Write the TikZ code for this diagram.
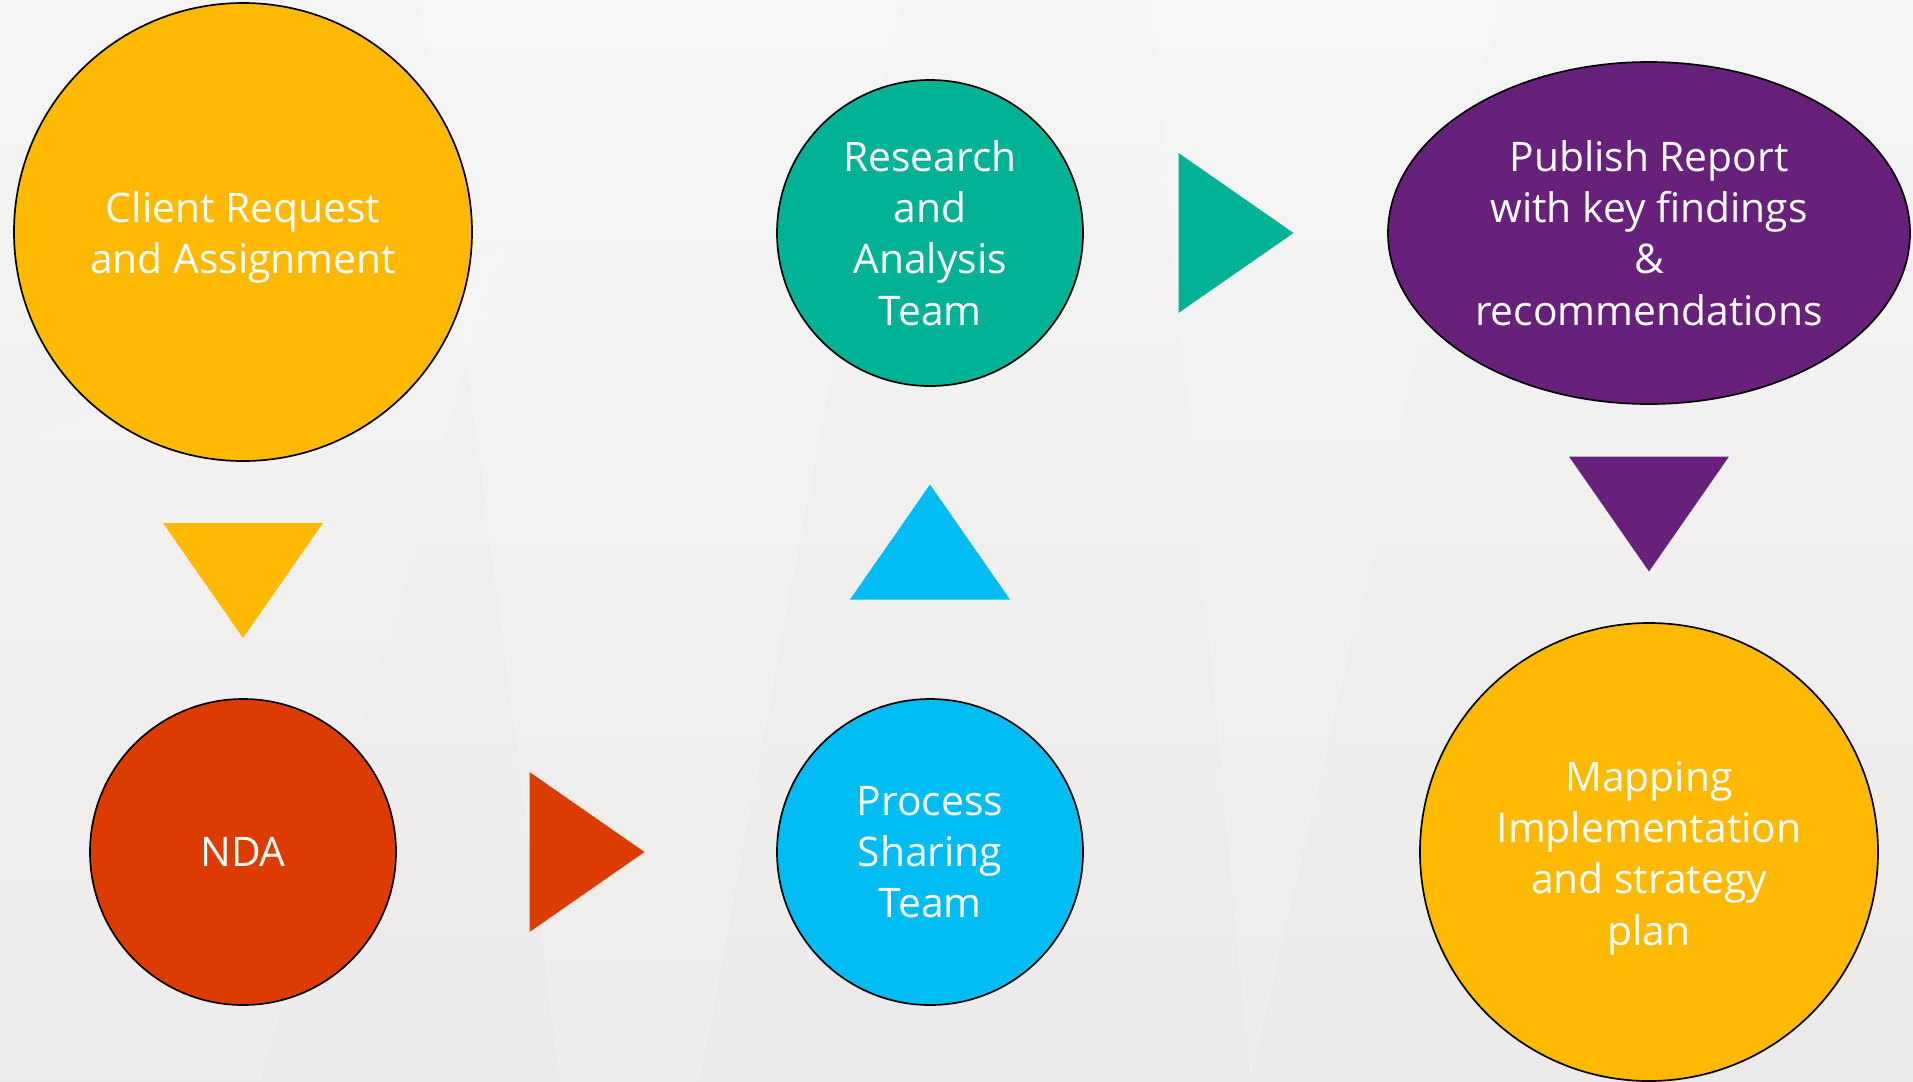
\documentclass[tikz,border=0pt]{standalone}
\usepackage{fontspec}
\setmainfont{Open Sans}
\usetikzlibrary{calc,shapes.geometric}

\definecolor{bgtop}{HTML}{F5F5F5}
\definecolor{bgbottom}{HTML}{ECEAE8}
\definecolor{sunyellow}{HTML}{FFB900}
\definecolor{rustred}{HTML}{DC3C00}
\definecolor{seateal}{HTML}{00B294}
\definecolor{skyblue}{HTML}{00BCF2}
\definecolor{plum}{HTML}{68217A}

% filled triangle pointing along #3 degrees, centred on #2
\newcommand{\flowtip}[3]{%
  \fill[#1, shift={(#2)}, rotate=#3] (-57,-80) -- (-57,80) -- (58,0) -- cycle;}

\begin{document}
\begin{tikzpicture}[x=0.25mm, y=-0.25mm,
  stage/.style={draw=black, line width=1.2pt, text=white, align=center,
                inner sep=0pt, font=\fontsize{29}{36.5}\selectfont},
  bigdisc/.style={stage, circle, minimum size=114.5mm},
  smalldisc/.style={stage, circle, minimum size=76.5mm}]

  % Tlo
  \shade[top color=bgtop, bottom color=bgbottom] (0,0) rectangle (1913,1081);
  \fill[white, opacity=0.15] (420,0) -- (900,0) -- (700,1081) -- (560,1081) -- cycle;
  \fill[white, opacity=0.12] (1150,0) -- (1500,0) -- (1250,1081) -- cycle;
  \fill[white, opacity=0.1] (0,450) -- (500,250) -- (260,1081) -- (0,1081) -- cycle;
  \useasboundingbox (0,0) rectangle (1913,1081);

  % Etapy
  \node[bigdisc, fill=sunyellow] (client) at (243,232)
    {\rule{0pt}{10.5mm}Client Request\\and Assignment};
  \node[smalldisc, fill=rustred] (nda) at (243,852) {NDA};
  \node[smalldisc, fill=skyblue] (process) at (930,852)
    {Process\\Sharing\\Team};
  \node[smalldisc, fill=seateal] (research) at (930,233)
    {Research\\and\\Analysis\\Team};
  \node[stage, ellipse, fill=plum, minimum width=130.5mm, minimum height=85.5mm]
    (publish) at (1649,233)
    {Publish Report\\with key findings\\\&\\recommendations};
  \node[bigdisc, fill=sunyellow] (mapping) at (1649,852)
    {\rule{0pt}{10.5mm}Mapping\\Implementation\\and strategy\\plan};

  % Strzalki
  \coordinate (tipA) at ($(client.south)!0.5!(nda.north)$);
  \coordinate (tipB) at ($(nda.east)!0.5!(process.west)$);
  \coordinate (tipC) at ($(process.north)!0.5!(research.south)$);
  \coordinate (tipD) at ($(research.east)!0.5!(publish.west)$);
  \coordinate (tipE) at ($(publish.south)!0.5!(mapping.north)$);
  \flowtip{sunyellow}{tipA}{-90}
  \flowtip{rustred}{tipB}{0}
  \flowtip{skyblue}{tipC}{90}
  \flowtip{seateal}{tipD}{0}
  \flowtip{plum}{tipE}{-90}
\end{tikzpicture}
\end{document}
